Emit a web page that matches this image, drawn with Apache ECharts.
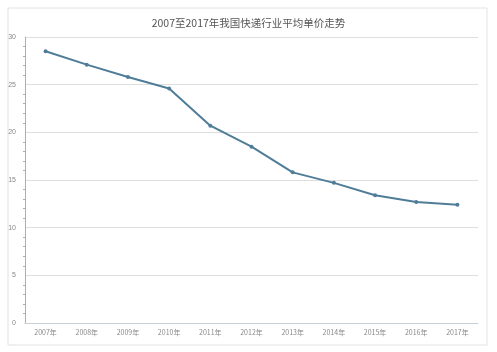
<!DOCTYPE html>
<html>
<head>
<meta charset="utf-8">
<script src="https://cdn.jsdelivr.net/npm/echarts@6/dist/echarts.min.js"></script>
<style>
  html, body { margin: 0; padding: 0; background: #fff; }
  #main { width: 497px; height: 352px; }
</style>
</head>
<body>
<div id="main"></div>
<script>
// 年份与平均单价
const years = ['2007年', '2008年', '2009年', '2010年', '2011年', '2012年', '2013年', '2014年', '2015年', '2016年', '2017年']
const prices = [28.5, 27.1, 25.8, 24.6, 20.7, 18.5, 15.8, 14.7, 13.4, 12.7, 12.4]

const chart = echarts.init(document.getElementById('main'))

chart.setOption({
  backgroundColor: '#fff',
  animation: false,
  title: {
    text: '2007至2017年我国快递行业平均单价走势',
    left: 'center',
    top: 13,
    textStyle: { fontSize: 10.5, fontWeight: 'normal', color: '#555', fontFamily: 'Noto Sans CJK SC' }
  },
  graphic: [{
    type: 'rect',
    shape: { x: 8, y: 8, width: 479, height: 337 },
    style: { fill: 'none', stroke: '#e2e2e2', lineWidth: 1 },
    silent: true
  }],
  grid: { left: 25, right: 19, top: 37, bottom: 29 },
  xAxis: {
    type: 'category',
    data: years,
    boundaryGap: true,
    axisLine: { lineStyle: { color: '#c8d0d6' } },
    axisTick: { show: false },
    axisLabel: { fontSize: 7, color: '#888', margin: 6, fontFamily: 'Noto Sans CJK SC' }
  },
  yAxis: {
    type: 'value',
    min: 0,
    max: 30,
    interval: 5,
    axisLine: { show: true, lineStyle: { color: '#9fb3c0' } },
    axisTick: { show: false },
    minorTick: { show: true, splitNumber: 5, length: 2, lineStyle: { color: '#9fb3c0' } },
    splitLine: { lineStyle: { color: '#dedede' } },
    axisLabel: { fontSize: 7, color: '#888', margin: 9 }
  },
  series: [{
    type: 'line',
    data: prices,
    symbol: 'circle',
    symbolSize: 4,
    lineStyle: { color: '#4f7d98', width: 2 },
    itemStyle: { color: '#4f7d98' }
  }]
})
</script>
</body>
</html>
